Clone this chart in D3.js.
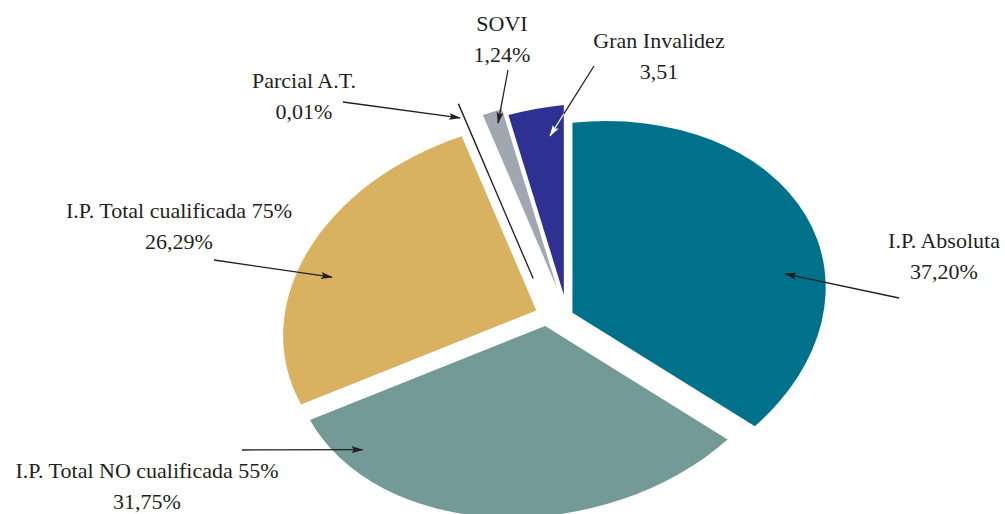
<!doctype html>
<html>
<head>
<meta charset="utf-8" />
<title>Incapacidades</title>
<script src="https://cdn.jsdelivr.net/npm/d3@7"></script>
<style>
  body { margin: 0; background: #fff; }
</style>
</head>
<body>
<svg width="1005" height="514"></svg>
<script>
var categories = ["I.P. Absoluta", "I.P. Total NO cualificada 55%", "I.P. Total cualificada 75%", "Parcial A.T.", "SOVI", "Gran Invalidez"];
var values = [37.20, 31.75, 26.29, 0.01, 1.24, 3.51];
var valueLabels = ["37,20%", "31,75%", "26,29%", "0,01%", "1,24%", "3,51"];
var colors = ["#00718a", "#739a97", "#d8b261", "#231f20", "#a1a7b0", "#2f3192"];

// explode distance and direction (deg) of each slice, pie space
var explode = [11, 13, 18, 44, 27, 21];
var explodeDir = [80, 228, 295.5, 335, 359, 12];

// label layout: text centre/baseline, arrow tail, arrow tip as angle (deg) + radius fraction on the slice
var labelPos = [
  {x: 944, y: 248, tail: [899, 298], tipA: 83.7, tipR: 0.845},
  {x: 147, y: 478, tail: [242, 450], tipA: 232.4, tipR: 0.91},
  {x: 179, y: 218, tail: [214, 260], tipA: 289.3, tipR: 0.855},
  {x: 304, y: 88, tail: [343, 102], tipA: 341.9, tipR: 0.93},
  {x: 502, y: 31, tail: [508, 70], tipA: 345.5, tipR: 0.935},
  {x: 659, y: 48, tail: [594, 66], tipA: 356.3, tipR: 0.846, white: true}
];

var cx = 558, cy = 316, R = 190;
var tilt = [1.333, -0.133, 0, 1]; // tilted ellipse

var svg = d3.select("svg");

var defs = svg.append("defs");
["#231f20", "#ffffff"].forEach(function(c, i) {
  defs.append("marker")
    .attr("id", "arrow" + i)
    .attr("markerUnits", "userSpaceOnUse")
    .attr("viewBox", "0 0 12 8")
    .attr("refX", 11).attr("refY", 4)
    .attr("markerWidth", 12).attr("markerHeight", 8)
    .attr("orient", "auto")
    .append("path").attr("d", "M0,0.5 L12,4 L0,7.5 L2.5,4 Z").attr("fill", c);
});

var pie = d3.pie().sort(null).value(d => d)(values);
var arc = d3.arc().innerRadius(0).outerRadius(R);

function offset(i) {
  var m = explodeDir[i] * Math.PI / 180;
  return [explode[i] * Math.sin(m), -explode[i] * Math.cos(m)];
}
function project(p) {
  return [cx + tilt[0] * p[0] + tilt[2] * p[1], cy + tilt[1] * p[0] + tilt[3] * p[1]];
}
var matrix = "matrix(" + tilt.join(",") + "," + cx + "," + cy + ")";

var g = svg.append("g").attr("transform", matrix);

g.selectAll("path").data(pie).enter().append("path")
  .attr("transform", (d, i) => "translate(" + offset(i) + ")")
  .attr("d", arc)
  .attr("fill", (d, i) => i === 3 ? "none" : colors[i])
  .attr("stroke", (d, i) => i === 3 ? colors[i] : "none")
  .attr("stroke-width", 1.3)
  .attr("vector-effect", "non-scaling-stroke");

// clip for the white part of the Gran Invalidez arrow
var gi = 5;
defs.append("clipPath").attr("id", "clipGran")
  .append("path")
  .attr("transform", matrix + " translate(" + offset(gi) + ")")
  .attr("d", arc(pie[gi]));

labelPos.forEach(function(lp, i) {
  var o = offset(i);
  var a = lp.tipA * Math.PI / 180;
  var tip = project([o[0] + R * lp.tipR * Math.sin(a), o[1] - R * lp.tipR * Math.cos(a)]);

  svg.append("line")
    .attr("x1", lp.tail[0]).attr("y1", lp.tail[1])
    .attr("x2", tip[0]).attr("y2", tip[1])
    .attr("stroke", "#231f20").attr("stroke-width", 1.3)
    .attr("marker-end", "url(#arrow0)");

  if (lp.white) {
    svg.append("line")
      .attr("x1", lp.tail[0]).attr("y1", lp.tail[1])
      .attr("x2", tip[0]).attr("y2", tip[1])
      .attr("stroke", "#ffffff").attr("stroke-width", 1.3)
      .attr("marker-end", "url(#arrow1)")
      .attr("clip-path", "url(#clipGran)");
  }

  var t = svg.append("text")
    .attr("text-anchor", "middle")
    .attr("font-family", "'Liberation Serif', 'DejaVu Serif', serif")
    .attr("font-size", 22)
    .attr("fill", "#231f20");
  t.append("tspan").attr("x", lp.x).attr("y", lp.y).text(categories[i]);
  t.append("tspan").attr("x", lp.x).attr("dy", 31).text(valueLabels[i]);
});
</script>
</body>
</html>
